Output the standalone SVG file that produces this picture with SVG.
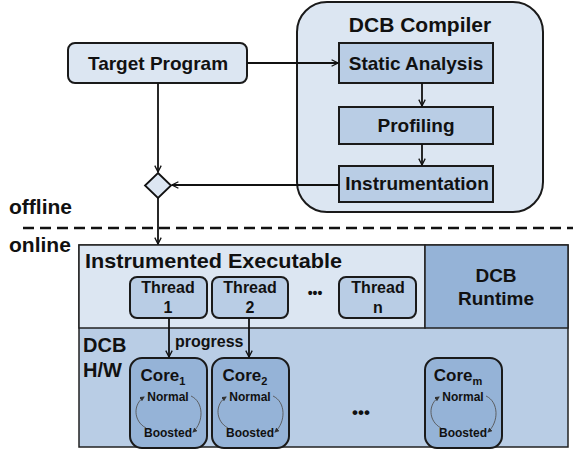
<svg xmlns="http://www.w3.org/2000/svg" width="573" height="459" viewBox="0 0 573 459">
<defs>
<marker id="arr" viewBox="0 0 10 10" refX="9" refY="5" markerWidth="8" markerHeight="8" orient="auto" markerUnits="userSpaceOnUse">
<path d="M1,1 L9,5 L1,9" fill="none" stroke="#111" stroke-width="1.6"/>
</marker>
<marker id="sm" viewBox="0 0 10 10" refX="8" refY="5" markerWidth="5" markerHeight="5" orient="auto" markerUnits="userSpaceOnUse">
<path d="M0,0 L10,5 L0,10 z" fill="#333"/>
</marker>
<g id="cycle">
<path d="M146,428 C133,421 133,404 144,397" fill="none" stroke="#555" stroke-width="0.9" marker-end="url(#sm)"/>
<path d="M191,396 C204,402 204,422 193,432" fill="none" stroke="#555" stroke-width="0.9" marker-end="url(#sm)"/>
</g>
</defs>
<style>
text{font-family:"Liberation Sans",Arial,sans-serif;fill:#111;font-weight:bold}
.t19{font-size:19px;text-anchor:middle}
.box{stroke:#1a1a1a;stroke-width:2}
.light{fill:#dce6f2}
.mid{fill:#b9cde5}
.dark{fill:#95b3d7}
.conn{stroke:#111;stroke-width:1.8;fill:none}
.thr{font-size:16px;text-anchor:middle}
.core{font-size:17px;text-anchor:middle}
.sub{font-size:11px}
.st{font-size:12px;text-anchor:middle}
</style>
<rect width="573" height="459" fill="#fff"/>

<g id="compiler">
<rect x="297" y="2" width="246" height="210" rx="30" class="box light"/>
<text x="420" y="32" style="font-size:21px;text-anchor:middle">DCB Compiler</text>
</g>
<g id="static-analysis">
<rect x="339" y="43" width="154" height="40" class="box mid"/>
<text x="416" y="70" class="t19">Static Analysis</text>
</g>
<g id="profiling">
<rect x="339" y="107" width="154" height="37" class="box mid"/>
<text x="416" y="132" class="t19">Profiling</text>
</g>
<g id="instrumentation">
<rect x="339" y="166" width="154" height="36" class="box mid"/>
<text x="417" y="190" class="t19">Instrumentation</text>
</g>
<g id="target-program">
<rect x="68" y="43" width="179" height="40" rx="7" class="box light"/>
<text x="158" y="70" class="t19">Target Program</text>
</g>
<g id="merge">
<polygon points="158,173 171,185.5 158,198 145,185.5" fill="#dce6f2" stroke="#111" stroke-width="1.8"/>
</g>

<g id="phase-labels">
<line x1="23" y1="228" x2="573" y2="228" stroke="#111" stroke-width="2.5" stroke-dasharray="11 6"/>
<text x="9" y="214" style="font-size:21px">offline</text>
<text x="9" y="252" style="font-size:21px">online</text>
</g>

<g id="online-box">
<rect x="79" y="245" width="489" height="202" class="mid" stroke="#222" stroke-width="1.5"/>
<rect x="79" y="245" width="346" height="83" class="light" stroke="#222" stroke-width="1.5"/>
</g>
<g id="executable">
<text x="85" y="268" style="font-size:21px" textLength="257" lengthAdjust="spacingAndGlyphs">Instrumented Executable</text>
</g>
<g id="runtime">
<rect x="425" y="245" width="143" height="83" class="dark" stroke="#222" stroke-width="1.5"/>
<text x="496" y="282" class="t19">DCB</text>
<text x="496" y="305" class="t19">Runtime</text>
</g>
<g id="hw">
<text x="83" y="352" style="font-size:20px">DCB</text>
<text x="83" y="377" style="font-size:20px">H/W</text>
</g>

<g id="thread1">
<rect x="130" y="277" width="77" height="41" rx="7" class="box mid"/>
<text x="168" y="293" class="thr">Thread</text>
<text x="168" y="313" class="thr">1</text>
</g>
<g id="thread2">
<rect x="212" y="277" width="76" height="41" rx="7" class="box mid"/>
<text x="250" y="293" class="thr">Thread</text>
<text x="250" y="313" class="thr">2</text>
</g>
<g id="thread-dots">
<text x="315" y="298" style="font-size:14px;text-anchor:middle">•••</text>
</g>
<g id="threadn">
<rect x="339" y="277" width="77" height="41" rx="7" class="box mid"/>
<text x="378" y="293" class="thr">Thread</text>
<text x="378" y="313" class="thr">n</text>
</g>

<g id="core1">
<rect x="130" y="358" width="77" height="90" rx="12" class="box dark"/>
<text x="163" y="381" class="core">Core<tspan class="sub" dy="4">1</tspan></text>
<text x="168" y="401" class="st">Normal</text>
<text x="168" y="437" class="st">Boosted</text>
<use href="#cycle"/>
</g>
<g id="core2">
<rect x="212" y="358" width="77" height="90" rx="12" class="box dark"/>
<text x="245" y="381" class="core">Core<tspan class="sub" dy="4">2</tspan></text>
<text x="250" y="401" class="st">Normal</text>
<text x="250" y="437" class="st">Boosted</text>
<use href="#cycle" x="82"/>
</g>
<g id="core-dots">
<text x="361" y="418" style="font-size:17px;text-anchor:middle">•••</text>
</g>
<g id="corem">
<rect x="425" y="358" width="77" height="90" rx="12" class="box dark"/>
<text x="458" y="381" class="core">Core<tspan class="sub" dy="4">m</tspan></text>
<text x="463" y="401" class="st">Normal</text>
<text x="463" y="437" class="st">Boosted</text>
<use href="#cycle" x="295"/>
</g>

<g id="connectors">
<line x1="247" y1="63" x2="338" y2="63" class="conn" marker-end="url(#arr)"/>
<line x1="422" y1="83" x2="422" y2="106" class="conn" marker-end="url(#arr)"/>
<line x1="422" y1="144" x2="422" y2="165" class="conn" marker-end="url(#arr)"/>
<line x1="158" y1="83" x2="158" y2="172" class="conn" marker-end="url(#arr)"/>
<line x1="339" y1="185" x2="172" y2="185" class="conn" marker-end="url(#arr)"/>
<line x1="158" y1="198" x2="158" y2="244" class="conn" marker-end="url(#arr)"/>
<line x1="169" y1="318" x2="169" y2="357" class="conn" marker-end="url(#arr)"/>
<line x1="249" y1="318" x2="249" y2="357" class="conn" marker-end="url(#arr)"/>
<text x="175" y="347" style="font-size:16px">progress</text>
</g>
</svg>
